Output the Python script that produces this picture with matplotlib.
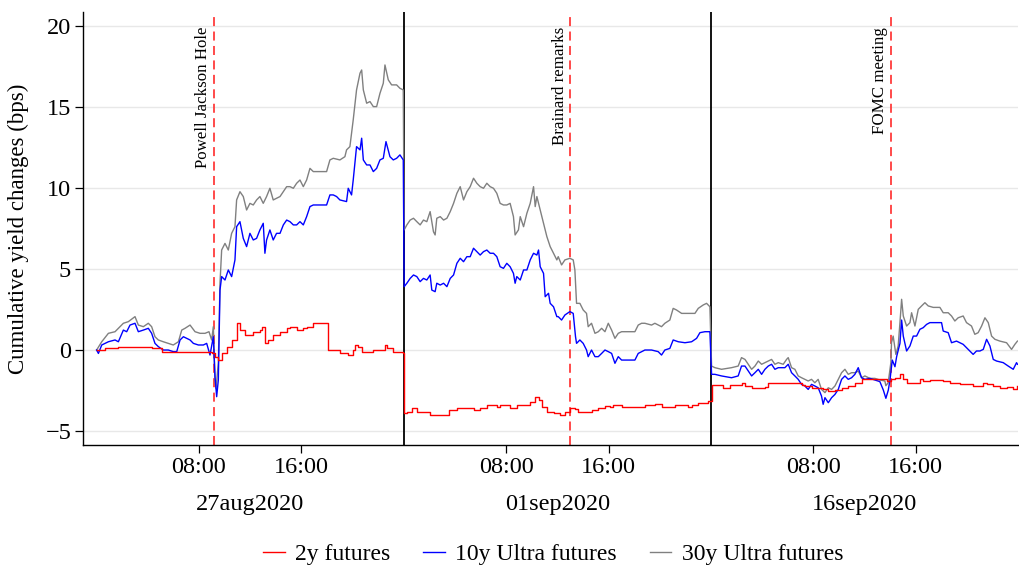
import matplotlib
matplotlib.use("Agg")
import matplotlib.pyplot as plt
import matplotlib.transforms as mtransforms
from matplotlib.lines import Line2D

plt.rcParams['font.family'] = ['Liberation Serif', 'DejaVu Serif']

# ---------------- data (hour of day, cumulative change in bps) ----------------
dates = ['27aug2020', '01sep2020', '16sep2020']
tick_hours = [8, 16]
tick_labels = ['08:00', '16:00']
event_hours = [9.17, 13.0, 14.05]
event_labels = ['Powell Jackson Hole', 'Brainard remarks', 'FOMC meeting']
series_names = ['2y futures', '10y Ultra futures', '30y Ultra futures']
series_colors = ['#ff0000', '#0000ff', '#808080']

y2_d1 = [(0.0,0.0),(0.66,0.10),(1.70,0.21),(3.0,0.21),(4.30,0.10),(5.08,-0.10),(6.91,-0.10),(8.99,-0.21),
         (9.25,-0.41),(9.51,-0.62),(9.77,-0.21),(10.16,0.21),(10.55,0.62),(10.94,1.65),(11.20,1.23),(11.59,0.93),
         (11.98,0.93),(12.24,1.13),(12.76,1.23),(12.89,1.44),(13.15,0.41),(13.41,0.62),(13.80,0.93),(14.33,1.13),
         (14.85,1.34),(15.11,1.44),(15.63,1.23),(16.15,1.34),(16.41,1.44),(16.93,1.65),(18.10,0.0),(19.01,-0.21),
         (19.66,-0.31),(20.05,0.0),(20.18,0.31),(20.44,0.21),(20.71,-0.10),(21.62,0.0),(22.53,0.31),(22.66,0.10),
         (23.18,-0.10),(23.96,-0.21)]
y10_d1 = [(0.0,0.0),(0.14,-0.21),(0.40,0.31),(0.92,0.51),(1.44,0.62),(1.70,0.51),(2.09,1.23),(2.35,1.13),(2.61,1.54),
          (3.0,1.65),(3.26,1.13),(3.65,1.23),(4.04,1.34),(4.30,1.03),(4.56,0.41),(4.82,0.21),(5.21,0.0),(5.60,0.0),
          (5.99,-0.10),(6.26,-0.10),(6.52,0.62),(6.78,0.82),(7.04,0.72),(7.30,0.62),(7.56,0.41),(7.95,0.31),(8.34,0.31),
          (8.60,0.41),(8.86,-0.31),(9.12,0.82),(9.25,-1.65),(9.38,-2.88),(9.51,-1.85),(9.64,3.70),(9.77,4.53),
          (10.03,4.32),(10.29,4.94),(10.55,4.53),(10.81,5.56),(10.94,7.61),(11.20,7.92),(11.46,6.89),(11.72,6.38),
          (11.98,7.20),(12.24,6.79),(12.50,6.89),(12.76,7.41),(13.02,7.82),(13.15,5.97),(13.28,6.79),(13.54,7.41),
          (13.80,6.79),(14.06,7.20),(14.33,7.20),(14.59,7.72),(14.85,8.02),(15.11,7.92),(15.37,7.72),(15.63,7.72),
          (15.89,7.92),(16.15,7.72),(16.41,8.23),(16.67,8.85),(16.93,8.95),(17.97,8.95),(18.23,9.57),(18.49,9.57),
          (18.75,9.47),(19.01,9.26),(19.53,9.16),(19.66,9.98),(19.92,9.57),(20.05,10.49),(20.31,12.55),(20.58,12.35),
          (20.71,13.07),(20.84,11.73),(21.10,11.42),(21.36,11.42),(21.62,11.01),(21.88,11.21),(22.14,11.73),
          (22.40,11.83),(22.61,12.86),(22.92,11.93),(23.18,11.73),(23.44,11.83),(23.70,12.04),(23.96,11.73)]
y30_d1 = [(0.0,0.0),(0.40,0.51),(0.92,1.03),(1.44,1.13),(2.09,1.65),(2.48,1.75),(3.0,2.06),(3.26,1.54),(3.65,1.44),
          (4.04,1.65),(4.30,1.44),(4.56,0.82),(4.82,0.62),(5.21,0.51),(5.60,0.41),(5.99,0.31),(6.39,0.51),(6.65,1.23),
          (6.91,1.34),(7.30,1.54),(7.69,1.13),(8.08,1.03),(8.47,1.03),(8.78,1.13),(8.99,0.62),(9.12,1.44),(9.25,-1.85),
          (9.33,-2.37),(9.51,-0.80),(9.64,4.12),(9.77,6.17),(10.03,6.58),(10.29,6.17),(10.55,7.20),(10.81,7.61),
          (10.94,9.26),(11.20,9.77),(11.46,9.47),(11.72,8.64),(11.98,9.05),(12.24,8.95),(12.50,9.26),(12.76,9.47),
          (13.02,9.05),(13.28,9.47),(13.54,9.98),(13.80,9.26),(14.06,9.36),(14.33,9.47),(14.59,9.77),(14.85,10.08),
          (15.11,10.08),(15.37,9.98),(15.63,10.29),(15.89,10.49),(16.15,10.08),(16.41,10.49),(16.67,11.21),
          (16.93,11.01),(17.97,11.01),(18.23,11.73),(18.49,11.83),(19.01,11.73),(19.40,11.93),(19.53,12.35),
          (19.79,12.55),(20.05,14.20),(20.31,16.05),(20.58,17.08),(20.71,17.28),(20.84,16.05),(21.10,15.23),
          (21.36,15.33),(21.62,15.02),(21.88,15.02),(22.14,15.84),(22.40,16.46),(22.53,17.59),(22.79,16.67),
          (23.05,16.36),(23.44,16.36),(23.70,16.15),(23.96,16.05)]

y2_d2 = [(0.03,-3.91),(0.24,-3.81),(0.63,-3.60),(1.02,-3.81),(2.06,-4.01),(3.50,-3.70),(4.15,-3.60),(5.45,-3.70),
         (5.97,-3.60),(6.49,-3.40),(7.27,-3.50),(7.53,-3.40),(8.31,-3.60),(8.83,-3.40),(9.88,-3.19),(10.27,-2.88),
         (10.53,-3.09),(10.79,-3.50),(11.18,-3.81),(11.70,-3.91),(12.22,-4.01),(12.59,-3.81),(12.98,-3.60),
         (13.37,-3.66),(13.63,-3.81),(14.67,-3.70),(15.20,-3.60),(15.72,-3.46),(16.11,-3.54),(16.37,-3.40),
         (17.02,-3.50),(18.84,-3.40),(19.62,-3.33),(20.14,-3.50),(21.18,-3.40),(22.23,-3.50),(22.49,-3.40),
         (23.01,-3.29),(23.79,-3.13),(23.96,-3.13)]
y10_d2 = [(0.03,3.91),(0.24,4.12),(0.50,4.42),(0.76,4.63),(1.02,4.53),(1.28,4.22),(1.54,4.42),(1.80,4.32),(2.06,4.63),
          (2.19,3.70),(2.45,3.60),(2.58,4.12),(2.85,4.01),(3.11,4.12),(3.37,3.91),(3.63,4.42),(3.89,4.63),(4.15,5.35),
          (4.41,5.66),(4.67,5.45),(4.93,5.76),(5.19,5.76),(5.45,6.28),(5.71,6.07),(5.97,5.86),(6.23,6.07),(6.49,6.17),
          (6.75,5.97),(7.01,5.97),(7.27,5.76),(7.53,5.14),(7.79,5.04),(8.05,5.35),(8.31,5.14),(8.57,4.73),(8.70,4.12),
          (8.83,4.53),(9.10,4.32),(9.36,4.94),(9.62,4.94),(9.88,5.56),(10.14,5.97),(10.40,5.86),(10.53,6.17),
          (10.66,5.14),(10.92,4.73),(11.05,3.29),(11.31,3.50),(11.44,2.88),(11.70,2.67),(11.96,2.06),(12.07,2.06),
          (12.33,1.85),(12.59,2.16),(12.98,2.37),(13.24,2.26),(13.42,0.82),(13.50,0.41),(13.76,0.62),(14.02,0.41),
          (14.28,0.0),(14.41,-0.41),(14.67,0.0),(14.94,-0.41),(15.20,-0.41),(15.46,-0.21),(15.72,0.0),(15.98,-0.10),
          (16.24,-0.21),(16.50,-0.82),(16.76,-0.41),(17.02,-0.62),(18.06,-0.62),(18.32,-0.21),(18.84,0.0),(19.36,0.0),
          (19.88,-0.10),(20.14,-0.31),(20.40,0.0),(20.79,0.10),(21.05,0.62),(21.45,0.51),(21.97,0.45),(22.49,0.51),
          (22.88,0.72),(23.14,1.07),(23.53,1.13),(23.92,1.13)]
y30_d2 = [(0.03,7.41),(0.24,7.72),(0.50,8.02),(0.76,8.13),(1.02,7.92),(1.28,7.72),(1.54,8.02),(1.80,7.92),(2.06,8.54),
          (2.32,7.30),(2.45,7.10),(2.58,8.13),(2.85,8.23),(3.11,8.02),(3.37,8.13),(3.63,8.54),(3.89,9.05),(4.15,9.67),
          (4.41,10.08),(4.67,9.26),(4.93,9.77),(5.19,10.08),(5.45,10.60),(5.71,10.29),(5.97,10.08),(6.23,9.98),
          (6.49,10.29),(6.75,10.08),(7.01,9.98),(7.27,9.67),(7.53,9.05),(7.79,8.95),(8.05,8.95),(8.31,9.05),(8.57,8.23),
          (8.70,7.10),(8.96,7.41),(9.10,8.23),(9.36,7.61),(9.62,8.44),(9.88,9.05),(10.14,10.08),(10.27,8.85),
          (10.40,9.47),(10.53,9.05),(10.79,8.23),(10.92,7.82),(11.18,7.00),(11.44,6.38),(11.70,5.97),(11.96,5.56),
          (12.07,5.76),(12.33,5.25),(12.59,5.56),(12.98,5.66),(13.24,5.56),(13.37,4.94),(13.50,2.88),(13.76,2.88),
          (14.02,2.47),(14.28,2.26),(14.41,1.44),(14.67,1.65),(14.94,1.03),(15.20,1.13),(15.46,1.34),(15.72,1.13),
          (15.98,1.65),(16.24,1.23),(16.50,0.72),(16.76,1.03),(17.02,1.13),(18.06,1.13),(18.32,1.54),(18.58,1.65),
          (18.84,1.65),(19.36,1.54),(19.62,1.65),(20.14,1.44),(20.40,1.65),(20.79,1.85),(21.05,2.57),(21.31,2.47),
          (21.71,2.26),(22.23,2.26),(22.75,2.26),(23.01,2.57),(23.40,2.78),(23.66,2.88),(23.92,2.67)]

y2_d3 = [(0.05,-2.18),(0.96,-2.33),(1.48,-2.18),(2.39,-2.06),(2.66,-2.22),(3.18,-2.33),(4.22,-2.26),(4.48,-2.06),
         (6.56,-2.06),(7.08,-2.18),(7.34,-2.22),(7.86,-2.33),(8.77,-2.43),(9.17,-2.53),(9.69,-2.47),(10.21,-2.33),
         (10.73,-2.22),(11.25,-2.02),(11.77,-1.81),(13.72,-1.91),(14.06,-1.81),(14.37,-1.71),(14.77,-1.50),
         (15.03,-1.81),(15.29,-2.02),(16.33,-1.81),(16.59,-1.91),(17.11,-1.85),(18.15,-1.91),(18.67,-2.06),
         (19.45,-2.12),(20.49,-2.22),(21.28,-2.02),(21.54,-2.12),(22.06,-2.22),(22.58,-2.33),(23.10,-2.26),
         (23.62,-2.43),(23.95,-2.22)]
y10_d3 = [(0.05,-1.50),(0.31,-1.50),(0.83,-1.60),(1.61,-1.71),(2.13,-1.60),(2.39,-0.99),(2.66,-0.99),(2.92,-1.30),
          (3.18,-1.60),(3.44,-1.40),(3.70,-1.19),(3.96,-1.50),(4.22,-1.19),(4.48,-0.99),(4.74,-0.88),(5.00,-1.19),
          (5.26,-1.09),(5.78,-1.09),(6.04,-0.88),(6.30,-1.40),(6.56,-1.60),(6.82,-1.81),(7.08,-2.12),(7.34,-2.22),
          (7.60,-2.43),(7.86,-2.12),(8.12,-2.22),(8.38,-2.33),(8.64,-2.84),(8.77,-3.35),(8.91,-2.94),(9.17,-3.25),
          (9.43,-2.94),(9.69,-2.74),(9.95,-2.43),(10.21,-1.81),(10.47,-1.60),(10.73,-1.81),(10.99,-1.71),
          (11.25,-1.50),(11.51,-1.09),(11.77,-1.71),(12.03,-1.81),(12.42,-1.75),(12.81,-1.85),(13.20,-1.95),
          (13.47,-2.47),(13.67,-2.98),(13.86,-2.47),(13.99,-1.85),(14.17,-0.62),(14.38,-1.03),(14.51,-0.41),
          (14.77,0.41),(14.90,1.85),(15.03,0.86),(15.29,-0.06),(15.55,0.25),(15.81,0.86),(16.07,0.86),(16.33,1.28),
          (16.59,1.38),(16.85,1.58),(17.11,1.69),(18.02,1.69),(18.15,1.17),(18.54,1.07),(18.80,0.45),(19.19,0.55),
          (19.45,0.45),(19.71,0.35),(20.23,-0.06),(20.49,-0.27),(20.75,-0.06),(21.02,-0.06),(21.28,0.04),
          (21.54,0.66),(21.80,0.25),(22.06,-0.58),(22.32,-0.68),(22.84,-0.78),(23.23,-0.99),(23.62,-1.19),
          (23.88,-0.78),(23.95,-0.88)]
y30_d3 = [(0.05,-0.99),(0.31,-1.09),(0.83,-1.19),(1.61,-1.09),(2.13,-0.99),(2.39,-0.47),(2.66,-0.58),(2.92,-0.88),
          (3.18,-1.19),(3.44,-0.99),(3.70,-0.68),(3.96,-0.88),(4.22,-0.78),(4.48,-0.68),(4.74,-0.58),(5.00,-0.88),
          (5.26,-0.78),(5.65,-0.88),(5.91,-0.58),(6.04,-0.47),(6.30,-1.09),(6.56,-1.19),(6.82,-1.60),(7.08,-1.71),
          (7.34,-1.81),(7.60,-1.91),(7.86,-1.81),(8.12,-2.02),(8.38,-1.81),(8.64,-2.43),(8.91,-2.63),(9.17,-2.33),
          (9.43,-2.43),(9.69,-2.22),(9.95,-1.81),(10.21,-1.40),(10.47,-1.19),(10.73,-1.50),(10.99,-1.40),
          (11.25,-1.40),(11.51,-1.30),(11.77,-1.71),(12.03,-1.60),(12.42,-1.75),(12.81,-1.75),(13.20,-1.85),
          (13.59,-1.91),(13.67,-2.20),(13.85,-2.02),(14.06,-0.78),(14.11,0.45),(14.24,0.86),(14.45,-0.27),
          (14.63,0.25),(14.77,1.69),(14.90,3.13),(15.03,2.10),(15.29,1.48),(15.55,1.69),(15.68,2.30),(15.94,1.48),
          (16.20,2.51),(16.46,2.72),(16.72,2.92),(16.98,2.72),(17.37,2.63),(17.89,2.63),(18.15,2.30),(18.54,2.30),
          (18.80,2.10),(19.06,1.79),(19.32,1.99),(19.71,2.10),(19.97,1.69),(20.36,1.48),(20.62,0.97),(20.88,1.07),
          (21.15,1.48),(21.41,1.99),(21.67,1.69),(21.93,0.86),(22.19,0.66),(22.58,0.55),(23.10,0.45),(23.49,0.04),
          (23.75,0.35),(23.95,0.55)]

series_data = [[y2_d1, y2_d2, y2_d3], [y10_d1, y10_d2, y10_d3], [y30_d1, y30_d2, y30_d3]]
series_steps = [True, False, False]

# ---------------- figure ----------------
fig = plt.figure(figsize=(10.19, 5.67), dpi=100)
ax = fig.add_axes([0.0815, 0.2152, 0.9176, 0.7637])

def join_days(days):
    xs, ys = [], []
    for d, pts in enumerate(days):
        for h, v in pts:
            xs.append(24 * d + h)
            ys.append(v)
    return xs, ys

# draw 30y first so blue/red lie on top
order = [2, 1, 0]
for i in order:
    xs, ys = join_days(series_data[i])
    ax.plot(xs, ys, color=series_colors[i], lw=1.0, zorder=3 + (2 - i),
            drawstyle='steps-post' if series_steps[i] else 'default')

# day separators
for d in range(1, len(dates)):
    ax.axvline(24 * d, color='black', lw=1.3, zorder=2)

# event lines and labels
for d, (h, lab) in enumerate(zip(event_hours, event_labels)):
    ax.axvline(24 * d + h, color='#ff3c3c', lw=1.3, dashes=(5, 3), zorder=2.5)
    ax.text(24 * d + h - 0.2, 19.95, lab, rotation=90, ha='right', va='top',
            fontsize=12.2, zorder=6)

ax.set_xlim(-1.06, 72.0)
ax.set_ylim(-5.86, 20.86)

xt, xl = [], []
for d in range(len(dates)):
    for h, lab in zip(tick_hours, tick_labels):
        xt.append(24 * d + h)
        xl.append(lab)
ax.set_xticks(xt)
ax.set_xticklabels(xl)
ax.set_yticks([-5, 0, 5, 10, 15, 20])

ax.yaxis.grid(True, color='#e8e8e8', lw=1.0)
ax.set_axisbelow(True)
for s in ['top', 'right']:
    ax.spines[s].set_visible(False)
for s in ['left', 'bottom']:
    ax.spines[s].set_linewidth(1.0)
ax.tick_params(axis='both', direction='out', length=5.5, width=0.9, labelsize=17.5, pad=3)

trans = mtransforms.blended_transform_factory(ax.transData, ax.transAxes)
for d, lab in enumerate(dates):
    ax.text(24 * d + 12, -0.1386, lab, transform=trans, ha='center', va='center', fontsize=17.5)

ax.set_ylabel('Cumulative yield changes (bps)', fontsize=16.5)
ax.yaxis.set_label_coords(-0.058, 0.5)

handles = [Line2D([0], [0], color=c, lw=1.0) for c in series_colors]
fig.legend(handles, series_names, loc='center', bbox_to_anchor=(0.543, 0.022), ncol=3,
           frameon=False, fontsize=17, handlelength=0.9, handletextpad=0.45, columnspacing=1.4)

fig.savefig('out.png', dpi=100)
